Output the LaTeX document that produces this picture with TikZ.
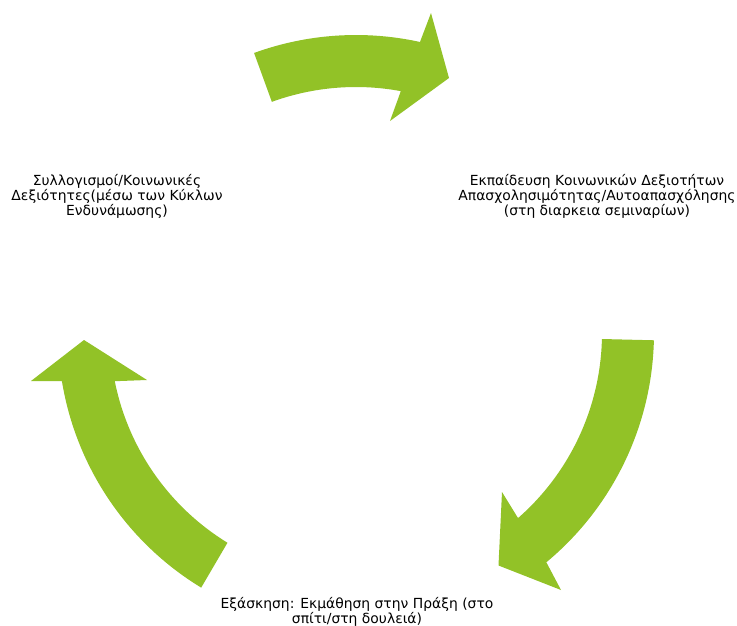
\documentclass[tikz,border=0pt]{standalone}
\usepackage{fontspec}
\setmainfont{DejaVu Sans}
\usetikzlibrary{calc}
\definecolor{arrowgreen}{RGB}{146,194,39}
\tikzset{
  cyclearrow/.style={fill=arrowgreen, draw=none},
  steptext/.style={align=center, inner sep=0pt, font=\fontsize{13.9}{15}\selectfont, text=black}
}
\begin{document}
\begin{tikzpicture}[x=1pt, y=-1pt]
\useasboundingbox (0,0) rectangle (737,625);
\coordinate (C) at (356,333);
% top arrow
\fill[cyclearrow] ($(C)+(-110:298)$) arc[start angle=-110, end angle=-77.6, radius=298]
  -- (431,13) -- (449,78) -- (390,121) -- ($(C)+(-79.5:246)$)
  arc[start angle=-79.5, end angle=-110, radius=246] -- cycle;
% right arrow
\fill[cyclearrow] ($(C)+(1.4:298)$) arc[start angle=1.4, end angle=50.3, radius=298]
  -- (561,590) -- (498.5,565.5) -- (502,492) -- ($(C)+(48.8:246)$)
  arc[start angle=48.8, end angle=1.4, radius=246] -- cycle;
% left arrow
\fill[cyclearrow] ($(C)+(121.3:298)$) arc[start angle=121.3, end angle=170.7, radius=298]
  -- (31,381) -- (84,340) -- (147,380) -- ($(C)+(168.7:246)$)
  arc[start angle=168.7, end angle=121.5, radius=246] -- cycle;
% texts
\node[steptext] (t1) at (117,196) {Συλλογισμοί/Κοινωνικές\\Δεξιότητες(μέσω των Κύκλων\\Ενδυνάμωσης)};
\node[steptext] (t2) at (597,196) {Εκπαίδευση Κοινωνικών Δεξιοτήτων\\Απασχολησιμότητας/Αυτοαπασχόλησης\\(στη διαρκεια σεμιναρίων)};
\node[steptext] (t3) at (357,612) {Εξάσκηση: Εκμάθηση στην Πράξη (στο\\σπίτι/στη δουλειά)};
\end{tikzpicture}
\end{document}
